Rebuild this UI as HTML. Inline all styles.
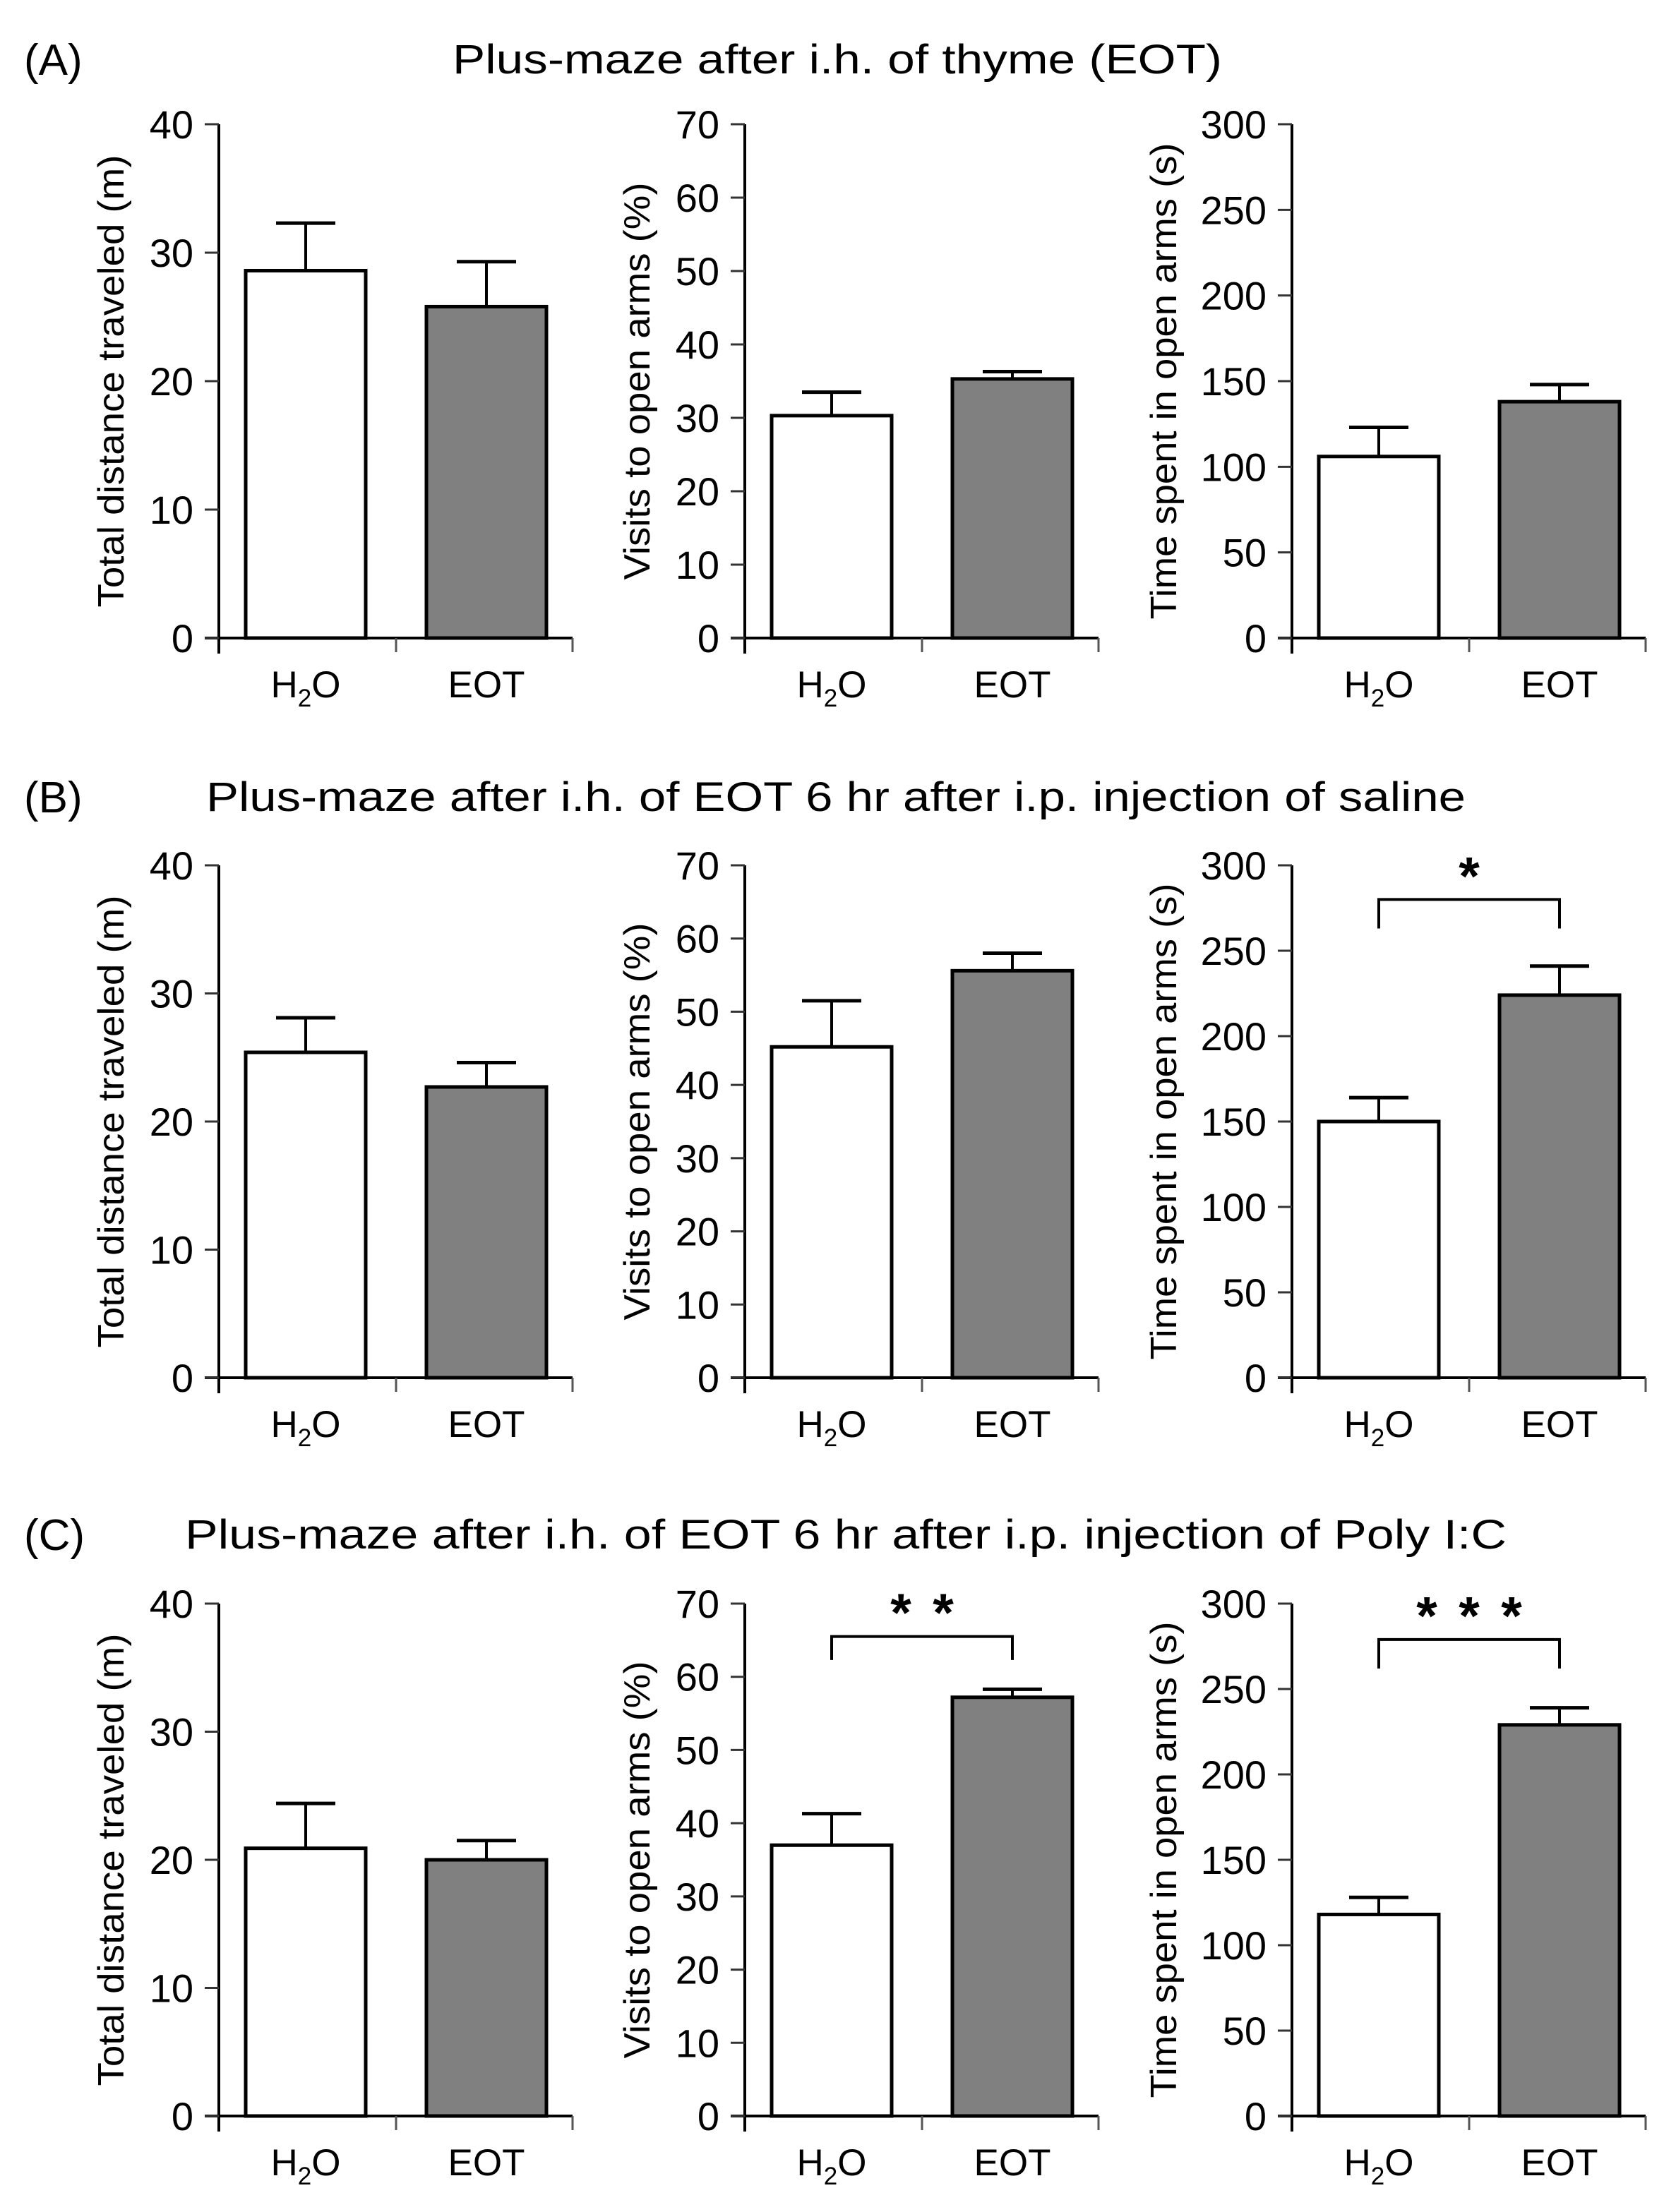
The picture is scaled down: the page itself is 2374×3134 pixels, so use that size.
<!DOCTYPE html>
<html><head><meta charset="utf-8">
<style>
html,body{margin:0;padding:0;background:#fff;}
svg{display:block;}
text{font-family:"Liberation Sans",Arial,sans-serif;fill:#000;}
</style></head>
<body>
<svg id="fig" width="2374" height="3134" viewBox="0 0 2374 3134" xmlns="http://www.w3.org/2000/svg">
<text x="34" y="106" font-size="62">(A)</text>
<text x="641" y="104" font-size="58" textLength="1090" lengthAdjust="spacingAndGlyphs">Plus-maze after i.h. of thyme (EOT)</text>
<text x="34" y="1151" font-size="62">(B)</text>
<text x="292" y="1149" font-size="58" textLength="1784" lengthAdjust="spacingAndGlyphs">Plus-maze after i.h. of EOT 6 hr after i.p. injection of saline</text>
<text x="34" y="2196" font-size="62">(C)</text>
<text x="262" y="2194" font-size="58" textLength="1872" lengthAdjust="spacingAndGlyphs">Plus-maze after i.h. of EOT 6 hr after i.p. injection of Poly I:C</text>
</svg>
<script>
// categories
const categories = ["H2O", "EOT"];
// y-axis ranges per column
const yMax = [40, 70, 300];
const yStep = [10, 10, 50];
const yTitles = ["Total distance traveled (m)", "Visits to open arms (%)", "Time spent in open arms (s)"];
const yTitleLen = [641, 563, 675];
// series values: rows A,B,C ; columns distance, visits, time
const meansA = [[28.6, 25.8], [30.3, 35.3], [106, 138]];
const errA   = [[32.3, 29.3], [33.5, 36.3], [123, 148]];
const meansB = [[25.4, 22.7], [45.2, 55.6], [150, 224]];
const errB   = [[28.1, 24.6], [51.5, 58.0], [164, 241]];
const meansC = [[20.9, 20.0], [37.0, 57.2], [118, 229]];
const errC   = [[24.4, 21.5], [41.3, 58.3], [128, 239]];
// significance: [row, col, bracketTop, bracketEnd, starY, starCount]
const sigB3 = [1, 2, 280, 263, 297, 1];
const sigC2 = [2, 1, 65.5, 62.3, 69.5, 2];
const sigC3 = [2, 2, 279, 262, 296, 3];

const svg = document.getElementById('fig');
const NS = 'http://www.w3.org/2000/svg';
const axisX = [310, 1055, 1830];
const rowTop = [176, 1226, 2272];
const rowZero = [904, 1952, 2998];
function mk(tag, attrs, parent) {
  const e = document.createElementNS(NS, tag);
  for (const k in attrs) e.setAttribute(k, attrs[k]);
  (parent || svg).appendChild(e);
  return e;
}
function yScale(r, c, v) { return rowZero[r] - v / yMax[c] * (rowZero[r] - rowTop[r]); }
function xBar(c, i) { return axisX[c] + 38 + i * 256; }

const means = [meansA, meansB, meansC];
const errs = [errA, errB, errC];
const rowNames = ['a', 'b', 'c'];
const colNames = ['distance', 'visits', 'time'];

for (let r = 0; r < 3; r++) {
  for (let c = 0; c < 3; c++) {
    const g = mk('g', {});
    
    
    const ax = axisX[c], z = rowZero[r], t = rowTop[r];
    for (let i = 0; i < 2; i++) {
      const x0 = xBar(c, i), w = 170, cx = x0 + w / 2;
      const yv = yScale(r, c, means[r][c][i]);
      const ye = yScale(r, c, errs[r][c][i]);
      const eb = mk('line', {x1: cx, x2: cx, y1: yv, y2: ye, stroke: '#000', 'stroke-width': 4}, g);
      
      
      const cap = mk('line', {x1: cx - 42, x2: cx + 42, y1: ye, y2: ye, stroke: '#000', 'stroke-width': 5}, g);
      
      
      const b = mk('rect', {x: x0, y: yv, width: w, height: z - yv, fill: i ? '#808080' : '#fff', stroke: '#000', 'stroke-width': 5}, g);
      
      
      const tx = mk('text', {x: cx, y: z + 84, 'font-size': 53, 'text-anchor': 'middle'}, g);
      
      
      if (categories[i] === 'H2O') {
        tx.appendChild(document.createTextNode('H'));
        const s = mk('tspan', {'font-size': 35, dy: 13}, tx);
        s.textContent = '2';
        const o = mk('tspan', {dy: -13}, tx);
        o.textContent = 'O';
      } else tx.textContent = categories[i];
    }
    const ya = mk('line', {x1: ax, x2: ax, y1: t, y2: z + 22, stroke: '#000', 'stroke-width': 4}, g);
    
    
    const xa = mk('line', {x1: ax - 20, x2: ax + 501, y1: z, y2: z, stroke: '#000', 'stroke-width': 4}, g);
    
    
    for (const dx of [251, 501]) {
      const tk = mk('line', {x1: ax + dx, x2: ax + dx, y1: z, y2: z + 20, stroke: '#555', 'stroke-width': 3}, g);
      
      
    }
    for (let v = 0; v <= yMax[c]; v += yStep[c]) {
      const y = yScale(r, c, v);
      const tk = mk('line', {x1: ax - 20, x2: ax, y1: y, y2: y, stroke: '#333', 'stroke-width': 3}, g);
      
      
      const tl = mk('text', {x: ax - 36, y: y + 20, 'font-size': 56, 'text-anchor': 'end', fill: '#222'}, g);
      
      
      tl.textContent = String(v);
    }
    const lx = c === 2 ? ax - 183 : ax - 154;
    const ly = (t + z) / 2;
    const yt = mk('text', {x: lx, y: ly, 'font-size': 52, 'text-anchor': 'middle', transform: 'rotate(-90 ' + lx + ' ' + ly + ')', textLength: yTitleLen[c], lengthAdjust: 'spacingAndGlyphs', dy: 19}, g);
    
    
    yt.textContent = yTitles[c];
  }
}
for (const s of [sigB3, sigC2, sigC3]) {
  const [r, c, top, end, sy, n] = s;
  const x1 = xBar(c, 0) + 85, x2 = xBar(c, 1) + 85;
  const yt = yScale(r, c, top), ye = yScale(r, c, end);
  const p = mk('path', {d: 'M' + x1 + ' ' + ye + 'V' + yt + 'H' + x2 + 'V' + ye, fill: 'none', stroke: '#000', 'stroke-width': 4});
  
  
  const cx = (x1 + x2) / 2, ys = yScale(r, c, sy);
  for (let k = 0; k < n; k++) {
    const st = mk('text', {x: cx + (k - (n - 1) / 2) * 60, y: ys + 34, 'font-size': 76, 'font-weight': 'bold', 'text-anchor': 'middle'});
    
    
    st.textContent = '*';
  }
}
</script>
</body></html>
